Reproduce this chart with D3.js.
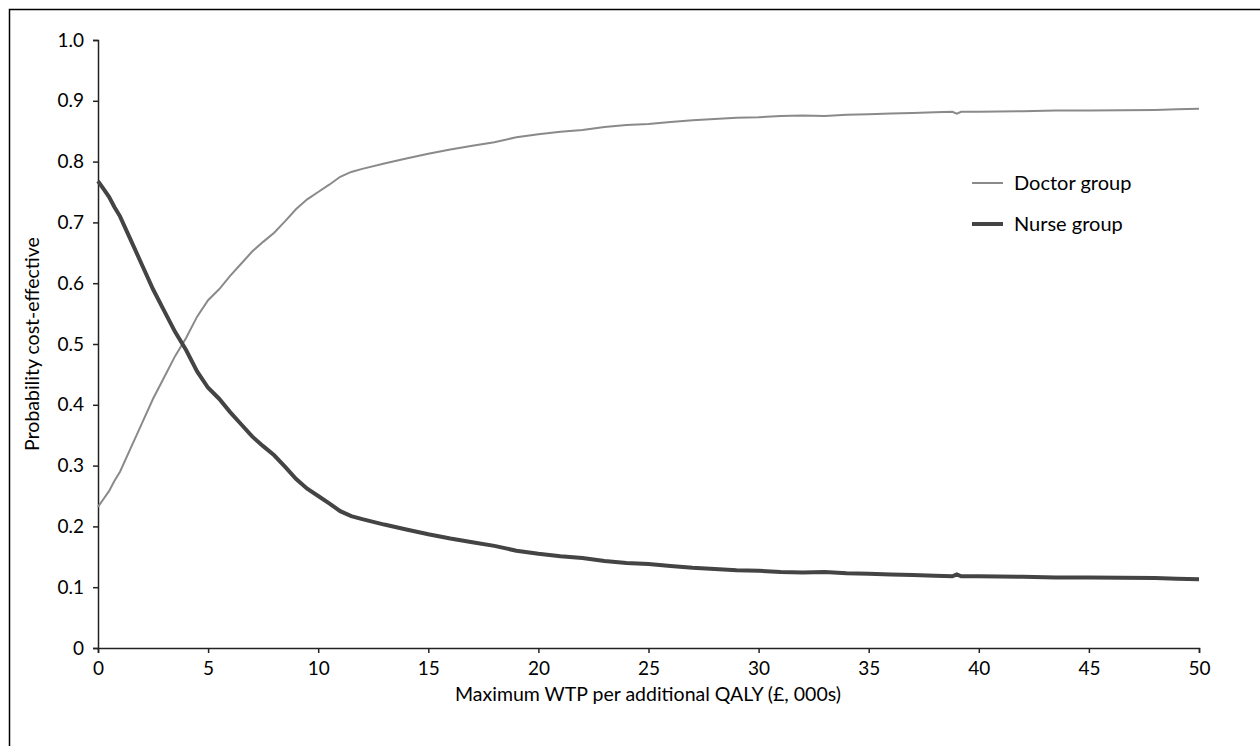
<!DOCTYPE html>
<html><head><meta charset="utf-8">
<script src="https://cdn.jsdelivr.net/npm/d3@7/dist/d3.min.js"></script>
<style>body{margin:0;background:#fff}svg{display:block}text{font-family:Lato,"Open Sans",sans-serif}</style>
</head><body><svg id="c" width="1260" height="746"></svg>
<script>
const wtp =    [0,0.25,0.5,0.75,1,1.5,2,2.5,3,3.5,4,4.5,5,5.5,6,6.5,7,7.5,8,8.5,9,9.5,10,10.5,11,11.5,12,13,14,15,16,17,18,19,20,21,22,23,24,25,26,27,28,29,30,31,32,33,34,35,36,37,38,38.8,39,39.2,40,42,43.5,45,48,49,50];
const doctor = [0.232,0.245,0.258,0.275,0.29,0.33,0.37,0.41,0.445,0.48,0.51,0.545,0.572,0.59,0.612,0.632,0.652,0.668,0.683,0.702,0.722,0.738,0.75,0.762,0.775,0.783,0.788,0.797,0.805,0.813,0.82,0.826,0.832,0.84,0.845,0.849,0.852,0.857,0.86,0.862,0.865,0.868,0.87,0.872,0.873,0.875,0.876,0.875,0.877,0.878,0.879,0.88,0.881,0.882,0.879,0.882,0.882,0.883,0.884,0.884,0.885,0.886,0.887];
const nurse =  [0.768,0.755,0.742,0.725,0.71,0.67,0.63,0.59,0.555,0.52,0.49,0.455,0.428,0.41,0.388,0.368,0.348,0.332,0.317,0.298,0.278,0.262,0.25,0.238,0.225,0.217,0.212,0.203,0.195,0.187,0.18,0.174,0.168,0.16,0.155,0.151,0.148,0.143,0.14,0.138,0.135,0.132,0.13,0.128,0.127,0.125,0.124,0.125,0.123,0.122,0.121,0.12,0.119,0.118,0.121,0.118,0.118,0.117,0.116,0.116,0.115,0.114,0.113];
const xTicks = [0,5,10,15,20,25,30,35,40,45,50];
const yTicks = [0,0.1,0.2,0.3,0.4,0.5,0.6,0.7,0.8,0.9,1.0];
const yTickLabels = ["0","0.1","0.2","0.3","0.4","0.5","0.6","0.7","0.8","0.9","1.0"];
const seriesNames = ["Doctor group","Nurse group"];

const svg = d3.select("#c");
svg.append("rect").attr("x",9.5).attr("y",9.5).attr("width",1400).attr("height",900)
  .attr("fill","none").attr("stroke","#000").attr("stroke-width",1.5);

const x = d3.scaleLinear().domain([0,50]).range([98,1199]);
const y = d3.scaleLinear().domain([0,1]).range([648,40]);

const gx = svg.append("g").attr("transform","translate(0,648)")
  .call(d3.axisBottom(x).tickValues(xTicks).tickSize(5).tickPadding(9).tickFormat(d3.format("d")));
const gy = svg.append("g").attr("transform","translate(98,0)")
  .call(d3.axisLeft(y).tickValues(yTicks).tickSize(5).tickPadding(9).tickFormat((d,i)=>yTickLabels[i]));
[gx,gy].forEach(g=>{
  g.select(".domain").attr("stroke","#222").attr("stroke-width",1.5);
  g.selectAll(".tick line").attr("stroke","#222").attr("stroke-width",1.5);
  g.selectAll("text").attr("font-size",19).attr("fill","#000").style("font-family","Lato, 'Open Sans', sans-serif");
});

const line = d3.line().x(d=>x(d[0])).y(d=>y(d[1]));
svg.append("path").datum(wtp.map((w,i)=>[w,doctor[i]])).attr("d",line)
  .attr("fill","none").attr("stroke","#8a8a8a").attr("stroke-width",2);
svg.append("path").datum(wtp.map((w,i)=>[w,nurse[i]])).attr("d",line)
  .attr("fill","none").attr("stroke","#444").attr("stroke-width",4);

svg.append("text").attr("x",648).attr("y",701).attr("text-anchor","middle")
  .attr("font-size",19.5).text("Maximum WTP per additional QALY (£, 000s)");
svg.append("text").attr("transform","translate(39,344) rotate(-90)").attr("text-anchor","middle")
  .attr("font-size",19.5).text("Probability cost-effective");

const leg = svg.append("g");
[["#8a8a8a",2],["#444",4]].forEach((s,i)=>{
  const yy = 183 + i*41;
  leg.append("line").attr("x1",972).attr("x2",1003).attr("y1",yy).attr("y2",yy)
    .attr("stroke",s[0]).attr("stroke-width",s[1]);
  leg.append("text").attr("x",1014).attr("y",yy+7).attr("font-size",20).text(seriesNames[i]);
});
</script></body></html>
